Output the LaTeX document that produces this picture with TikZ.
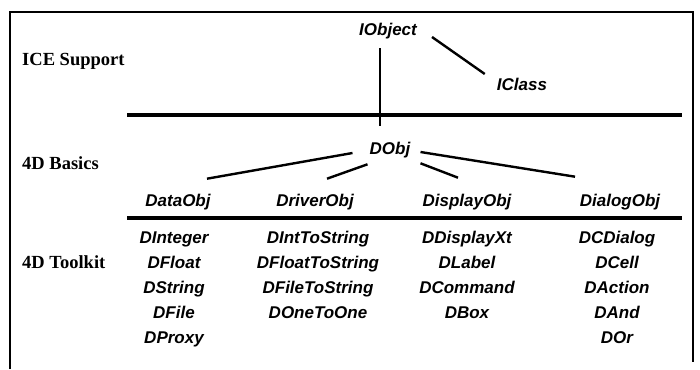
\documentclass[tikz,border=0pt]{standalone}
\usepackage{fontspec}
\setmainfont{Liberation Serif}
\setsansfont{Liberation Sans}
\usepackage{tikz}
\usetikzlibrary{positioning}

\begin{document}
\begin{tikzpicture}[
    x=1pt, y=-1pt,
    layerlabel/.style={font=\rmfamily\bfseries\fontsize{18.5}{20}\selectfont, anchor=west, inner sep=0pt, text height=12.3pt, text depth=0pt},
    classname/.style={font=\sffamily\bfseries\itshape\fontsize{17}{20}\selectfont, inner sep=0pt, text height=12.2pt, text depth=0pt},
    member/.style={classname},
    link/.style={line width=2.4pt},
    rule/.style={line width=3.4pt},
]
\useasboundingbox (0,0) rectangle (700,369);
% Frame (open at the bottom)
\draw[line width=2pt] (10,369) -- (10,12.5) -- (693,12.5) -- (693,362);
% Layer labels
\node[layerlabel] (ice) at (22,59) {ICE Support};
\node[layerlabel] (basics) at (22,163) {4D Basics};
\node[layerlabel] (toolkit) at (22,262) {4D Toolkit};
% Layer separators
\draw[rule] (127,115) -- (682,115);
\draw[rule] (127,218) -- (682,218);
% ICE Support
\node[classname] (iobject) at (388,29) {IObject};
\node[classname] (iclass) at (522,84) {IClass};
% 4D Basics
\node[classname] (dobj) at (390,148) {DObj};
\node[classname] (dataobj) at (178,200) {DataObj};
\node[classname] (driverobj) at (315,200) {DriverObj};
\node[classname] (displayobj) at (467,200) {DisplayObj};
\node[classname] (dialogobj) at (620,200) {DialogObj};
\draw[link] ([shift={(15,8)}]iobject.east) -- ([shift={(-12,-10)}]iclass.west);
\draw[link] ([shift={(-8,13)}]iobject.south) -- ([shift={(-10,-16)}]dobj.north);
\draw[link] ([shift={(-17,5)}]dobj.west) -- ([shift={(29,-15)}]dataobj.north);
\draw[link] ([shift={(-2,10)}]dobj.south west) -- ([shift={(12,-15)}]driverobj.north);
\draw[link] ([shift={(10,9)}]dobj.south east) -- ([shift={(-9,-16)}]displayobj.north);
\draw[link] ([shift={(10,4)}]dobj.east) -- ([shift={(-45,-17)}]dialogobj.north);
% 4D Toolkit, one column per base class
\foreach \name [count=\i] in {DInteger,DFloat,DString,DFile,DProxy}
    \node[member] (data\i) at (174,212+25*\i) {\name};
\foreach \name [count=\i] in {DIntToString,DFloatToString,DFileToString,DOneToOne}
    \node[member] (driver\i) at (318,212+25*\i) {\name};
\foreach \name [count=\i] in {DDisplayXt,DLabel,DCommand,DBox}
    \node[member] (display\i) at (467,212+25*\i) {\name};
\foreach \name [count=\i] in {DCDialog,DCell,DAction,DAnd,DOr}
    \node[member] (dialog\i) at (617,212+25*\i) {\name};
\end{tikzpicture}
\end{document}
